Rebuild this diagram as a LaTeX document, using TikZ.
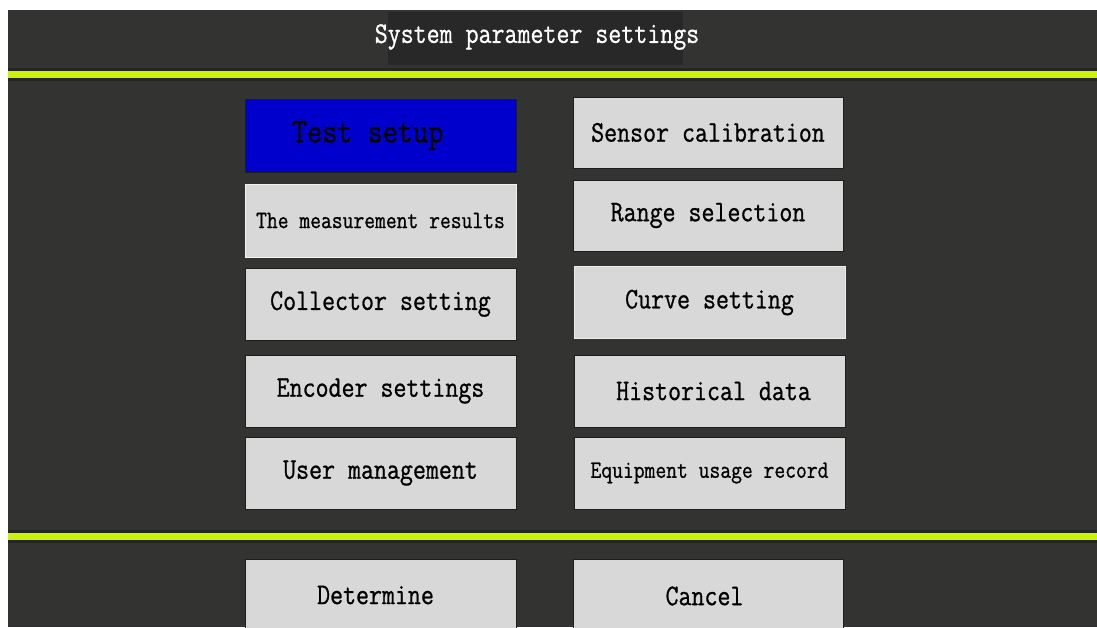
\documentclass[tikz,border=0pt]{standalone}
\usepackage{fontspec}
\setmonofont{Latin Modern Mono}[FakeStretch=0.84, FakeBold=0.8]
\definecolor{panel}{RGB}{51,52,49}
\definecolor{titlebg}{RGB}{40,40,40}
\definecolor{bar}{RGB}{204,242,10}
\definecolor{barEdge}{RGB}{36,38,34}
\definecolor{btn}{RGB}{216,216,216}
\definecolor{btnEdge}{RGB}{30,30,30}
\definecolor{active}{RGB}{0,0,204}
\tikzset{
  btnbox/.style={draw=btnEdge, line width=1pt, fill=btn, minimum width=271pt,
    minimum height=72pt, inner sep=0pt, font=\ttfamily\fontsize{30}{30}\selectfont, text=black},
  smalltext/.style={font=\ttfamily\fontsize{25}{25}\selectfont},
  bigtext/.style={font=\ttfamily\fontsize{35}{35}\selectfont},
}
\begin{document}
\begin{tikzpicture}[x=1pt,y=-1pt]
\useasboundingbox (0,0) rectangle (1097,627);
% page and panel
\fill[white] (0,0) rectangle (1097,627);
\fill[panel] (8,10) rectangle (1097,627);
% title strip
\fill[titlebg] (388,12) rectangle (683,65);
\node[text=white, font=\ttfamily\fontsize{30}{30}\selectfont] (title) at (537,37) {System parameter settings};
% separator bars
\fill[barEdge] (8,68) rectangle (1097,81);
\fill[bar] (8,71) rectangle (1097,78);
\fill[barEdge] (8,530) rectangle (1097,543);
\fill[bar] (8,533) rectangle (1097,540);
% left column
\node[btnbox, fill=active, bigtext, minimum height=73pt] (test) at (380.5,135.5) {\hspace*{-26pt}Test setup};
\node[btnbox, smalltext, draw=white!90!gray, minimum height=73pt] (meas) at (380.5,220.5) {The measurement results};
\node[btnbox] (coll) at (380.5,304) {Collector setting};
\node[btnbox] (enc) at (380.5,391) {Encoder settings};
\node[btnbox] (user) at (380.5,473) {User management};
% right column
\node[btnbox, minimum width=270pt, minimum height=71pt] (sens) at (708,132.5) {Sensor calibration};
\node[btnbox, minimum width=270pt, minimum height=71pt] (range) at (708,215.5) {Range selection};
\node[btnbox, draw=white!85!gray] (curve) at (709.5,302.5) {Curve setting};
\node[btnbox] (hist) at (709.5,391) {\hspace*{8pt}Historical data};
\node[btnbox, smalltext] (equip) at (709.5,473) {Equipment usage record};
% bottom buttons (cut off by the lower edge)
\begin{scope}
\clip (0,0) rectangle (1097,627);
\node[btnbox, minimum height=80pt] (det) at (380.5,599) {};
\node[btnbox, minimum width=270pt, minimum height=80pt] (canc) at (708,599) {};
\end{scope}
\node[font=\ttfamily\fontsize{30}{30}\selectfont] (detlbl) at (375.5,595) {Determine};
\node[font=\ttfamily\fontsize{30}{30}\selectfont] (canclbl) at (704.5,596) {Cancel};
\end{tikzpicture}
\end{document}
